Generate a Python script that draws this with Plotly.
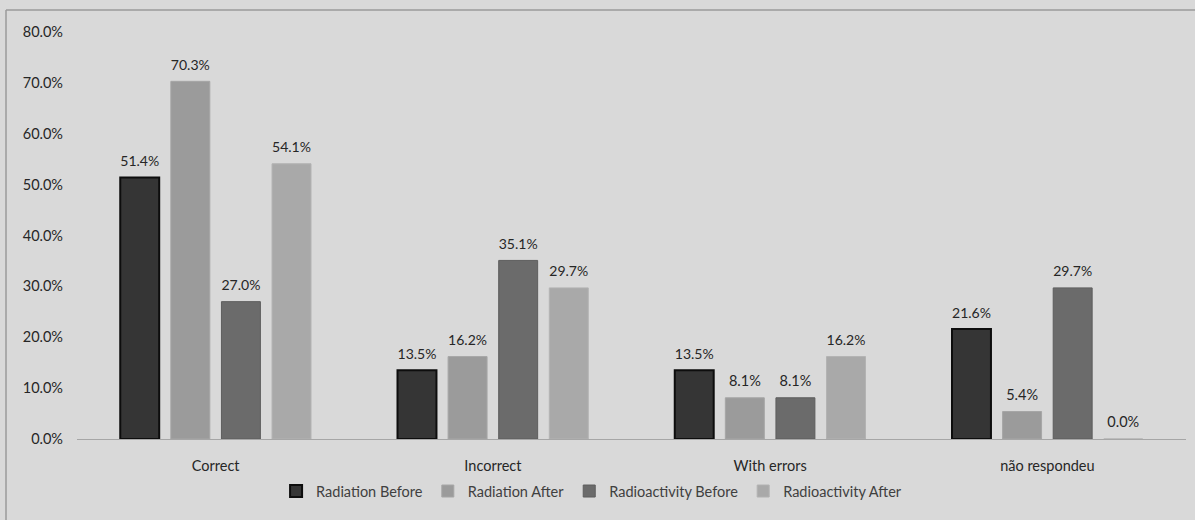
import plotly.graph_objects as go

categories = ["Correct", "Incorrect", "With errors", "não respondeu"]
series_names = ["Radiation Before", "Radiation After", "Radioactivity Before", "Radioactivity After"]
radiation_before = [0.514, 0.135, 0.135, 0.216]
radiation_after = [0.703, 0.162, 0.081, 0.054]
radioactivity_before = [0.270, 0.351, 0.081, 0.297]
radioactivity_after = [0.541, 0.297, 0.162, 0.000]
y_ticks = [0, 0.1, 0.2, 0.3, 0.4, 0.5, 0.6, 0.7, 0.8]

series_values = [radiation_before, radiation_after, radioactivity_before, radioactivity_after]
fills = ["#353535", "#9b9b9b", "#6b6b6b", "#a9a9a9"]
edges = ["#0d0d0d", "#a6a6a6", "#5e5e5e", "#b3b3b3"]
edge_w = [2, 1, 1, 1]

FONT = "Lato"
FS = 14.5
fig = go.Figure()
for name, vals, fc, ec, w in zip(series_names, series_values, fills, edges, edge_w):
    fig.add_trace(go.Bar(
        x=categories, y=vals, name=name,
        marker=dict(color=fc, line=dict(color=ec, width=w)),
        text=[f"{v*100:.1f}%" for v in vals],
        texttemplate="<span style='font-size:14.5px'>%{text}</span><br> ",
        textposition="outside",
        textfont=dict(family=FONT, size=6, color="#262626"),
        cliponaxis=False,
    ))

fig.update_layout(
    width=1195, height=520,
    paper_bgcolor="#d9d9d9", plot_bgcolor="rgba(0,0,0,0)",
    margin=dict(l=77, r=9, t=32, b=81),
    barmode="group", bargap=0.27, bargroupgap=0.23,
    font=dict(family=FONT, size=FS, color="#404040"),
    showlegend=True,
    legend=dict(orientation="h", x=0.464, xanchor="center", y=-0.128, yanchor="middle",
                font=dict(family=FONT, size=FS, color="#404040"),
                bgcolor="rgba(0,0,0,0)", itemwidth=30, traceorder="normal"),
    xaxis=dict(showline=True, linecolor="#a6a6a6", linewidth=1, ticks="",
               ticklabelstandoff=14,
               tickfont=dict(family=FONT, size=FS, color="#262626"), showgrid=False),
    yaxis=dict(range=[0, 0.8], tickvals=y_ticks, tickformat=".1%", showgrid=False,
               zeroline=False, showline=False, ticks="", ticklabelstandoff=13,
               tickfont=dict(family=FONT, size=FS, color="#262626")),
    shapes=[
        dict(type="line", xref="paper", yref="paper",
             x0=(6 - 77) / 1109, x1=(1300 - 77) / 1109,
             y0=(439 - 10) / 407, y1=(439 - 10) / 407,
             line=dict(color="#9a9a9a", width=1.5), layer="below"),
        dict(type="line", xref="paper", yref="paper",
             x0=(6 - 77) / 1109, x1=(6 - 77) / 1109,
             y0=(439 - 10) / 407, y1=(439 - 600) / 407,
             line=dict(color="#9a9a9a", width=1.5), layer="below"),
    ],
)
fig.write_html("out.html")
